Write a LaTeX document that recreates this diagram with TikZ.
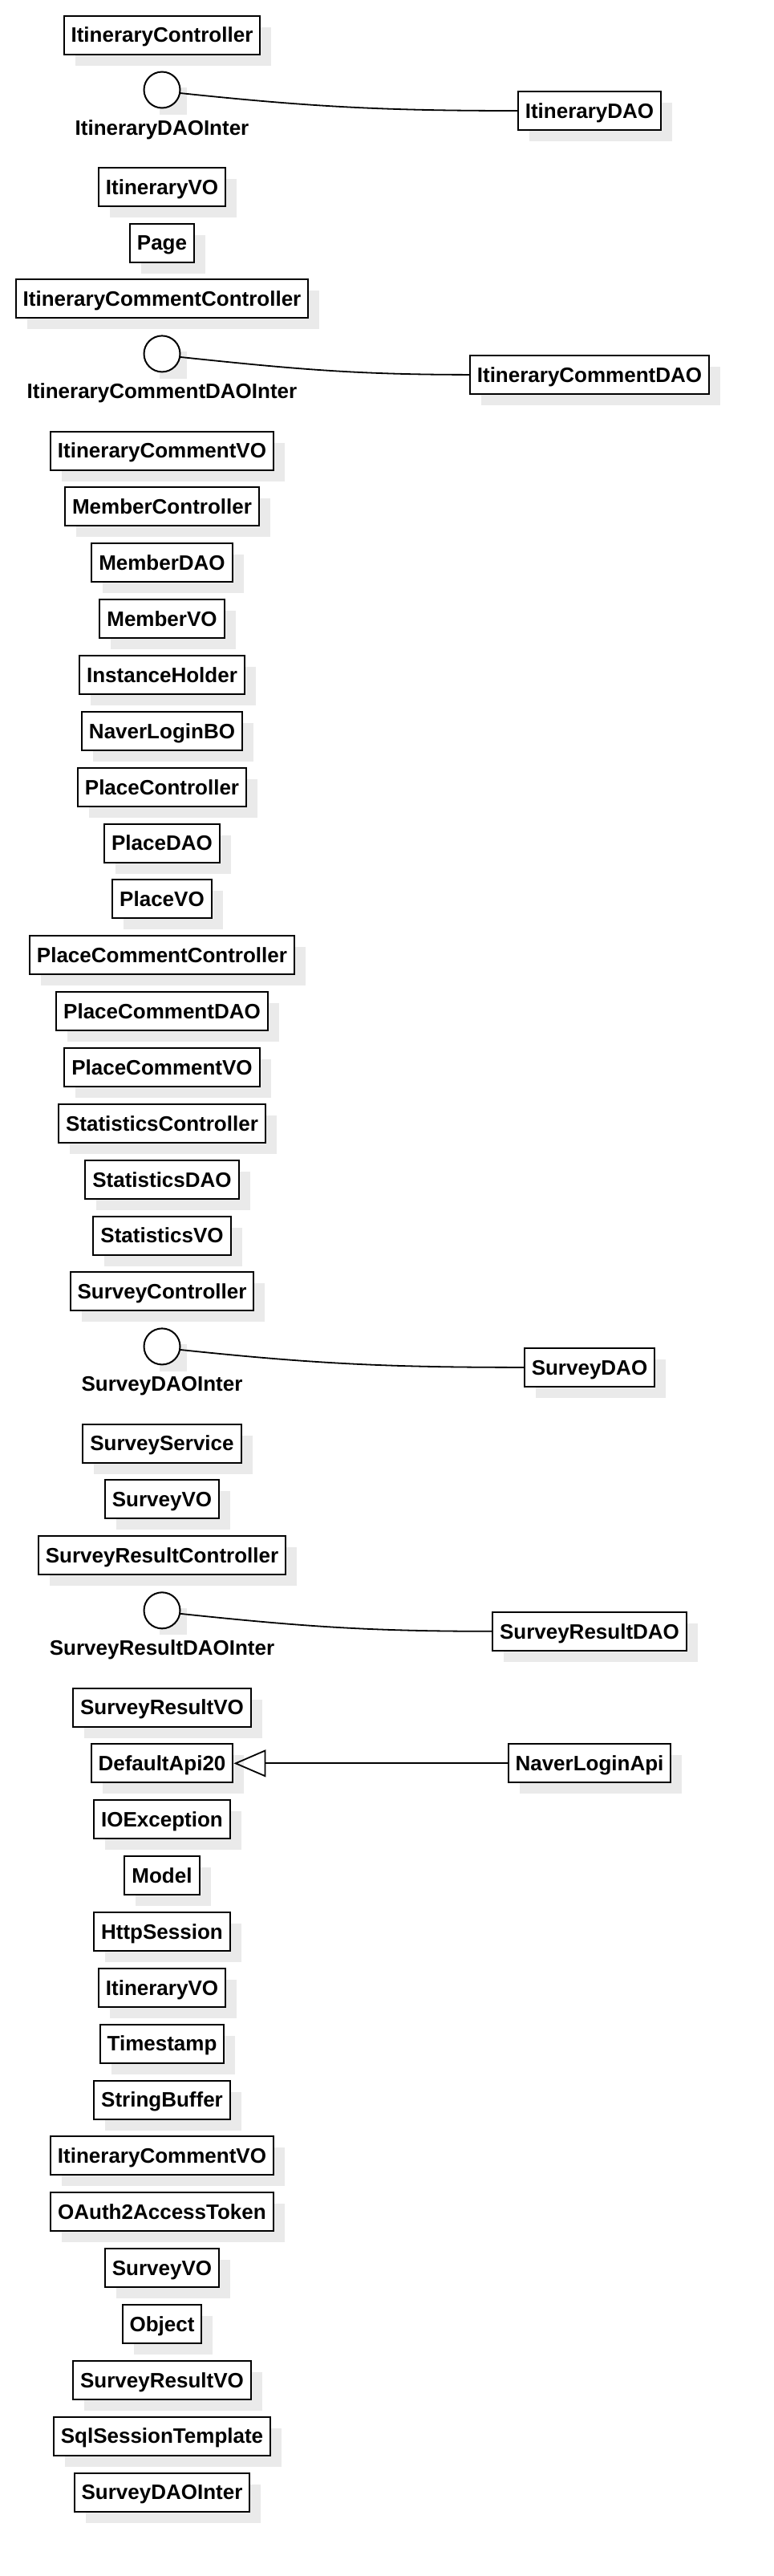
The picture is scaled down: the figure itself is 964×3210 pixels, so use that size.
\documentclass[tikz,border=0pt]{standalone}
\usepackage{fontspec}
\setmainfont{Liberation Sans}
\usetikzlibrary{shadows}
\usetikzlibrary{arrows.meta}
\usetikzlibrary{backgrounds}
\definecolor{shadowgray}{RGB}{234,234,234}

\tikzset{
    cls/.style={draw, line width=2pt, fill=white, font=\bfseries\fontsize{26}{30}\selectfont,
        text height=18.6pt, text depth=0pt, minimum height=48pt, inner xsep=9pt, inner ysep=0pt,
        drop shadow={shadow xshift=14pt, shadow yshift=-14pt, fill=shadowgray, opacity=1}},
    iface/.style={draw, circle, line width=2pt, fill=white, minimum size=45pt, inner sep=0pt},
    ifacelabel/.style={anchor=base, font=\bfseries\fontsize{26}{30}\selectfont},
    realize/.style={line width=1.8pt},
    inherit/.style={line width=1.8pt, -{Triangle[open, length=40pt, width=34pt]}},
    ifaceshadow/.style={fill=shadowgray}
}

\begin{document}
\begin{tikzpicture}[x=1pt, y=-1pt]
    \useasboundingbox (0,0) rectangle (964,3210);

    \node[cls] (itinCtrl) at (202,43.5) {ItineraryController};
    \node[iface] (itinDaoInter) at (202,112) {};
    \node[ifacelabel] (itinDaoInterLbl) at (202,168) {ItineraryDAOInter};
    \node[cls] (itinDao) at (735,138) {ItineraryDAO};
    \node[cls] (itinVo) at (202,232.7) {ItineraryVO};
    \node[cls] (page) at (202,302.5) {Page};
    \node[cls] (itinCmtCtrl) at (202,372.4) {ItineraryCommentController};
    \node[iface] (itinCmtDaoInter) at (202,440.9) {};
    \node[ifacelabel] (itinCmtDaoInterLbl) at (202,496.9) {ItineraryCommentDAOInter};
    \node[cls] (itinCmtDao) at (735,466.9) {ItineraryCommentDAO};
    \node[cls] (itinCmtVo) at (202,561.5) {ItineraryCommentVO};

    \node[cls] (memberCtrl) at (202,631.4) {MemberController};
    \node[cls] (memberDao) at (202,701.2) {MemberDAO};
    \node[cls] (memberVo) at (202,771.1) {MemberVO};
    \node[cls] (instHolder) at (202,841.0) {InstanceHolder};
    \node[cls] (naverBo) at (202,910.8) {NaverLoginBO};

    \node[cls] (placeCtrl) at (202,980.7) {PlaceController};
    \node[cls] (placeDao) at (202,1050.5) {PlaceDAO};
    \node[cls] (placeVo) at (202,1120.4) {PlaceVO};
    \node[cls] (placeCmtCtrl) at (202,1190.3) {PlaceCommentController};
    \node[cls] (placeCmtDao) at (202,1260.1) {PlaceCommentDAO};
    \node[cls] (placeCmtVo) at (202,1330.0) {PlaceCommentVO};

    \node[cls] (statCtrl) at (202,1399.8) {StatisticsController};
    \node[cls] (statDao) at (202,1469.7) {StatisticsDAO};
    \node[cls] (statVo) at (202,1539.6) {StatisticsVO};

    \node[cls] (surveyCtrl) at (202,1609.4) {SurveyController};
    \node[iface] (surveyDaoInter) at (202,1677.9) {};
    \node[ifacelabel] (surveyDaoInterLbl) at (202,1733.9) {SurveyDAOInter};
    \node[cls] (surveyDao) at (735,1703.9) {SurveyDAO};
    \node[cls] (surveySvc) at (202,1798.6) {SurveyService};
    \node[cls] (surveyVo) at (202,1868.4) {SurveyVO};
    \node[cls] (resultCtrl) at (202,1938.3) {SurveyResultController};
    \node[iface] (resultDaoInter) at (202,2006.8) {};
    \node[ifacelabel] (resultDaoInterLbl) at (202,2062.8) {SurveyResultDAOInter};
    \node[cls] (resultDao) at (735,2032.8) {SurveyResultDAO};
    \node[cls] (resultVo) at (202,2127.5) {SurveyResultVO};

    \node[cls] (defaultApi) at (202,2197.3) {DefaultApi20};
    \node[cls] (naverApi) at (735,2197.3) {NaverLoginApi};
    \node[cls] (ioExc) at (202,2267.2) {IOException};
    \node[cls] (model) at (202,2337.0) {Model};
    \node[cls] (httpSess) at (202,2406.9) {HttpSession};
    \node[cls] (itinVoB) at (202,2476.8) {ItineraryVO};
    \node[cls] (timestamp) at (202,2546.6) {Timestamp};
    \node[cls] (strBuf) at (202,2616.5) {StringBuffer};
    \node[cls] (itinCmtVoB) at (202,2686.3) {ItineraryCommentVO};
    \node[cls] (oauthTok) at (202,2756.2) {OAuth2AccessToken};
    \node[cls] (surveyVoB) at (202,2826.1) {SurveyVO};
    \node[cls] (object) at (202,2895.9) {Object};
    \node[cls] (resultVoB) at (202,2965.8) {SurveyResultVO};
    \node[cls] (sqlTmpl) at (202,3035.6) {SqlSessionTemplate};
    \node[cls] (surveyDaoInterB) at (202,3105.5) {SurveyDAOInter};

    \begin{scope}[on background layer]
        \foreach \i in {itinDaoInter, itinCmtDaoInter, surveyDaoInter, resultDaoInter}
            \fill[ifaceshadow] ([xshift=14pt, yshift=-14pt]\i.south west) rectangle ([xshift=14pt, yshift=-14pt]\i.north east);
    \end{scope}

    \draw[realize] (itinDaoInter.-10) to[out=-6, in=180] (itinDao.west);
    \draw[realize] (itinCmtDaoInter.-10) to[out=-6, in=180] (itinCmtDao.west);
    \draw[realize] (surveyDaoInter.-10) to[out=-6, in=180] (surveyDao.west);
    \draw[realize] (resultDaoInter.-10) to[out=-6, in=180] (resultDao.west);

    \draw[inherit] (naverApi) -- (defaultApi);
\end{tikzpicture}
\end{document}
